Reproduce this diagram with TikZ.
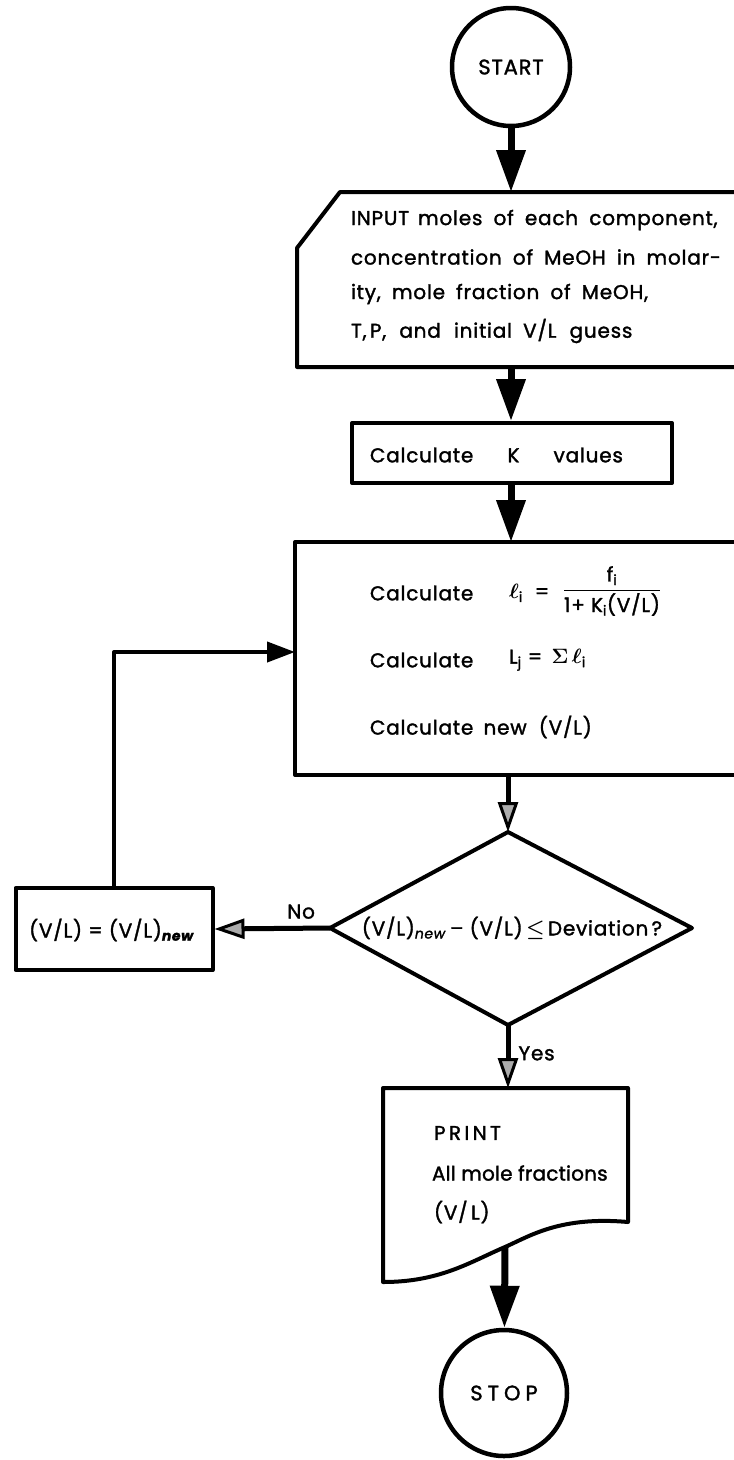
\documentclass[tikz,border=0pt]{standalone}
\usepackage{amsmath}
\usepackage{fontspec}
\setmainfont{Poppins}[FakeBold=1.6, LetterSpace=4]
\usetikzlibrary{arrows.meta}
\begin{document}
\begin{tikzpicture}[x=1pt,y=-1pt,
  line width=4pt, line join=round,
  txt/.style={font=\fontsize{20}{24}\selectfont, inner sep=0pt},
  term/.style={circle, draw, line width=4.5pt, font=\fontsize{21}{25}\selectfont},
  stepbox/.style={draw, rectangle, inner sep=0pt},
  flow/.style={line width=7pt, -{Triangle[length=42pt,width=28pt]}},
  hflow/.style={line width=5pt, -{Triangle[length=30pt,width=20pt,fill=gray!65,line width=3pt]}},
  lflow/.style={line width=4pt, -{Triangle[length=28pt,width=20pt]}}
]
\useasboundingbox (0,0) rectangle (734,1460);
\fill[white] (0,0) rectangle (734,1460);

% START
\node[term, minimum size=118pt] (start) at (511,67) {START};

% INPUT box (chamfered corner)
\draw (340,192) -- (760,192) -- (760,367) -- (297,367) -- (297,248) -- cycle;
\coordinate (inTop) at (511,192);
\coordinate (inBot) at (511,367);
\node[txt, anchor=west] (in1) at (349,220) {INPUT\hspace{9pt}moles\hspace{5pt} of\hspace{5pt} each\hspace{5pt} component,};
\node[txt, anchor=west] (in2) at (349,257) {concentration\hspace{5pt} of\hspace{5pt} MeOH\hspace{5pt} in\hspace{5pt} molar-};
\node[txt, anchor=west] (in3) at (349,294) {ity,\hspace{5pt} mole\hspace{5pt} fraction\hspace{5pt} of\hspace{5pt} MeOH,};
\node[txt, anchor=west] (in4) at (349,331) {T,\,P,\hspace{7pt} and\hspace{7pt} initial\hspace{5pt} V/L\hspace{7pt} guess};

% Calculate K values
\node[stepbox, minimum width=320pt, minimum height=60pt] (kbox) at (512,453) {};
\node[txt, anchor=west] (ktxt) at (368,455) {Calculate\hspace{28pt} K\hspace{28pt} values};

% big calculation box (extends past right edge)
\draw (760,542) -- (295,542) -- (295,775) -- (760,775);
\coordinate (bigTop) at (511,542);
\coordinate (bigBot) at (511,775);
\coordinate (bigIn) at (295,652);
\node[txt, anchor=west] (c1) at (368,593) {Calculate};
\node[txt, anchor=west] (q1) at (507,593) {$\boldsymbol{\ell}$\textsubscript{i}\hspace{12pt}=};
\node[txt] (fr) at (612,591) {$\dfrac{\text{f}_{\text{i}}}{\text{1+ K}_{\text{i}}\text{(V/L)}}$};
\node[txt, anchor=west] (c2) at (368,660) {Calculate};
\node[txt, anchor=west] (q2) at (507,660) {L\textsubscript{j} = \,$\boldsymbol{\Sigma}\,\boldsymbol{\ell}$\textsubscript{i}};
\node[txt, anchor=west] (c3) at (368,727) {Calculate\hspace{4pt} new\hspace{6pt} (V/L)};

% decision diamond
\coordinate (dTop) at (508,832);
\coordinate (dRight) at (692,928);
\coordinate (dBot) at (508,1025);
\coordinate (dLeft) at (330,928);
\draw (dTop) -- (dRight) -- (dBot) -- (dLeft) -- cycle;
\node[txt] (dtxt) at (512,928) {(V/L)\textsubscript{\textit{new}}\,– (V/L)\,$\boldsymbol{\leq}$\,Deviation\,?};

% left box
\node[stepbox, minimum width=197pt, minimum height=82pt] (lbox) at (114,929) {};
\node[txt] (ltxt) at (112,930) {(V/L) = (V/L)\textsubscript{\textit{\textbf{new}}}};

% PRINT document
\draw (383,1088) -- (628,1088) -- (628,1222)
  .. controls (560,1216) and (530,1236) .. (505,1247)
  .. controls (470,1262) and (440,1282) .. (383,1282) -- cycle;
\coordinate (prTop) at (508,1088);
\coordinate (prBot) at (505,1247);
\node[txt, anchor=west] (p1) at (432,1133) {P\,R\,I\,N\,T};
\node[txt, anchor=west] (p2) at (430,1173) {\addfontfeature{LetterSpace=1}All mole fractions};
\node[txt, anchor=west] (p3) at (432,1212) {(V/\,L)};

% STOP
\node[term, minimum size=126pt] (stop) at (504,1393) {S\hspace{5pt}T\hspace{5pt}O\hspace{5pt}P};

% connectors
\draw[flow] (start) -- (inTop);
\draw[flow] (inBot) -- (kbox.north -| inBot);
\draw[flow] (kbox.south -| inBot) -- (bigTop);
\draw[hflow] (bigBot -| dTop) -- (dTop);
\draw[hflow] (dLeft) -- (lbox.east) node[txt, pos=0.25, above=7pt] (no) {No};
\draw[lflow] (lbox.north) |- (bigIn);
\draw[hflow] (dBot) -- (prTop) node[txt, pos=0.45, right=8pt] (yes) {Yes};
\draw[flow] (prBot) -- (stop);
\end{tikzpicture}
\end{document}
